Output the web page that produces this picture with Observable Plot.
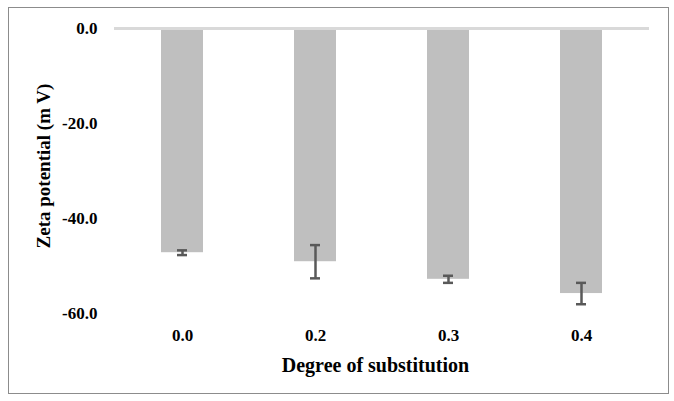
<!DOCTYPE html>
<html><head><meta charset="utf-8">
<script src="https://cdn.jsdelivr.net/npm/d3@7"></script>
<script src="https://cdn.jsdelivr.net/npm/@observablehq/plot@0.6"></script>
<style>
html,body{margin:0;padding:0;background:#fff;}
#wrap{position:relative;width:674px;height:401px;overflow:hidden;}
#border{position:absolute;left:8px;top:7px;width:659px;height:385px;border:1px solid #8c8c8c;pointer-events:none;}
svg text{font-family:"Liberation Serif","Times New Roman",serif;}
</style></head><body>
<div id="wrap"><div id="chart"></div><div id="border"></div></div>
<script>
const categories = ["0.0", "0.2", "0.3", "0.4"];
const zeta = [-47.2, -49.1, -52.8, -55.8];
const errors = [0.5, 3.5, 0.75, 2.25];
const yTicks = [0, -20, -40, -60];
const xTitle = "Degree of substitution";
const yTitle = "Zeta potential (m V)";

const data = categories.map((c, i) => ({ds: c, zeta: zeta[i], lo: zeta[i] - errors[i], hi: zeta[i] + errors[i]}));

const chart = Plot.plot({
  width: 674, height: 401,
  marginLeft: 114, marginRight: 25, marginTop: 28, marginBottom: 88,
  style: {fontFamily: "'Liberation Serif', 'Times New Roman', serif", fontSize: "17px", fontWeight: "bold", color: "#000", background: "#fff"},
  x: {domain: categories, paddingInner: 0.686, paddingOuter: 0.343, label: null},
  y: {domain: [-60, 0], label: null},
  marks: [
    Plot.barY(data, {x: "ds", y1: 0, y2: "zeta", fill: "#bfbfbf"}),
    Plot.ruleY([0], {stroke: "#d9d9d9", strokeWidth: 3}),
    Plot.ruleX(data, {x: "ds", y1: "lo", y2: "hi", stroke: "#595959", strokeWidth: 2.5}),
    Plot.tickY(data, {x: "ds", y: "lo", stroke: "#595959", strokeWidth: 2.5, insetLeft: 16, insetRight: 16}),
    Plot.tickY(data, {x: "ds", y: "hi", stroke: "#595959", strokeWidth: 2.5, insetLeft: 16, insetRight: 16}),
    Plot.axisX({tickSize: 0, tickPadding: 15, fontSize: 17, fontWeight: "bold", label: null}),
    Plot.axisY({ticks: yTicks, tickSize: 0, tickPadding: 17, tickFormat: d => d.toFixed(1), fontSize: 17, fontWeight: "bold", label: null}),
    Plot.text([xTitle], {text: d => d, frameAnchor: "bottom", dy: 58, dx: -6.5, fontSize: 20, fontWeight: "bold"}),
    Plot.text([yTitle], {text: d => d, frameAnchor: "left", textAnchor: "middle", rotate: -90, dx: -70.4, dy: -5, fontSize: 19, fontWeight: "bold"})
  ]
});
document.getElementById("chart").appendChild(chart);
</script>
</body></html>
